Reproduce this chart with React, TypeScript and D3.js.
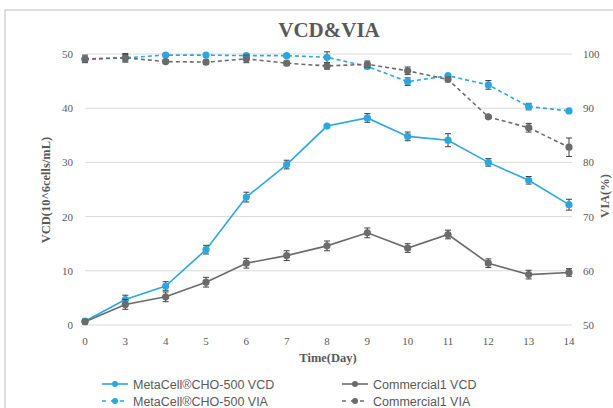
import React from "react";
import * as d3 from "d3";

const days = ["0", "3", "4", "5", "6", "7", "8", "9", "10", "11", "12", "13", "14"];
const vcdTicks = [0, 10, 20, 30, 40, 50];
const viaTicks = [50, 60, 70, 80, 90, 100];

const metaVcd = [0.7, 4.7, 7.2, 13.9, 23.6, 29.6, 36.7, 38.2, 34.8, 34.1, 30.0, 26.7, 22.2];
const metaVcdErr = [0.4, 0.8, 0.8, 0.8, 0.9, 0.8, 0.2, 0.8, 0.8, 1.2, 0.7, 0.7, 1.0];
const commVcd = [0.6, 3.8, 5.2, 7.9, 11.4, 12.8, 14.6, 17.0, 14.2, 16.7, 11.4, 9.3, 9.7];
const commVcdErr = [0.4, 0.9, 0.9, 0.9, 0.9, 0.9, 0.9, 0.9, 0.8, 0.8, 0.8, 0.8, 0.7];

const metaVia = [99.0, 99.3, 99.8, 99.8, 99.7, 99.7, 99.4, 97.7, 94.9, 96.0, 94.3, 90.3, 89.5];
const metaViaErr = [0.3, 0.8, 0.3, 0.3, 0.3, 0.3, 1.0, 0.4, 0.7, 0.2, 0.8, 0.6, 0.2];
const commVia = [99.1, 99.3, 98.6, 98.5, 99.1, 98.3, 97.8, 98.1, 96.9, 95.3, 88.4, 86.4, 82.8];
const commViaErr = [0.7, 0.6, 0.3, 0.4, 0.7, 0.4, 0.6, 0.6, 0.7, 0.4, 0.3, 0.8, 1.7];

const BLUE = "#2AA7DF";
const GRAY = "#6B6B6B";
const TEXT = "#595959";

const x = d3.scalePoint<string>().domain(days).range([85, 569]);
const yL = d3.scaleLinear().domain([0, 50]).range([325, 54]);
const yR = d3.scaleLinear().domain([50, 100]).range([325, 54]);

const Series = ({ values, errs, scale, color, dashed }) => {
  const line = d3
    .line<number>()
    .x((d, i) => x(days[i]))
    .y((d) => scale(d));
  return (
    <g>
      <path
        d={line(values)}
        fill="none"
        stroke={color}
        strokeWidth={1.6}
        strokeDasharray={dashed ? "4,3" : undefined}
      />
      {values.map((v, i) => {
        const cx = x(days[i]);
        const top = scale(v + errs[i]);
        const bot = scale(v - errs[i]);
        return (
          <g key={i}>
            <line x1={cx} x2={cx} y1={top} y2={bot} stroke="#404040" strokeWidth={1} />
            <line x1={cx - 3} x2={cx + 3} y1={top} y2={top} stroke="#404040" strokeWidth={1} />
            <line x1={cx - 3} x2={cx + 3} y1={bot} y2={bot} stroke="#404040" strokeWidth={1} />
            <circle cx={cx} cy={scale(v)} r={3.6} fill={color} />
          </g>
        );
      })}
    </g>
  );
};

const legendItems = [
  { label: "MetaCell®CHO-500 VCD", color: BLUE, dashed: false, x: 102, y: 384 },
  { label: "MetaCell®CHO-500 VIA", color: BLUE, dashed: true, x: 102, y: 401 },
  { label: "Commercial1 VCD", color: GRAY, dashed: false, x: 342, y: 384 },
  { label: "Commercial1 VIA", color: GRAY, dashed: true, x: 342, y: 401 },
];

export default function App() {
  return (
    <svg
      width={613}
      height={408}
      style={{ position: "absolute", left: 0, top: 0, background: "#fff" }}
    >
      <rect x={5} y={10} width={640} height={420} fill="#fff" stroke="#c8c8c8" strokeWidth={1.2} />
      <text
        x={329}
        y={37}
        textAnchor="middle"
        fontFamily="Liberation Serif"
        fontWeight="bold"
        fontSize={21}
        fill={TEXT}
      >
        VCD&amp;VIA
      </text>

      {vcdTicks.map((t) => (
        <line key={t} x1={85} x2={572} y1={yL(t)} y2={yL(t)} stroke="#dadada" strokeWidth={1} />
      ))}
      {vcdTicks.map((t) => (
        <text
          key={t}
          x={73}
          y={yL(t) + 4}
          textAnchor="end"
          fontFamily="Liberation Serif"
          fontSize={11}
          fill={TEXT}
        >
          {t}
        </text>
      ))}
      {viaTicks.map((t) => (
        <text key={t} x={583} y={yR(t) + 4} fontFamily="Liberation Serif" fontSize={11} fill={TEXT}>
          {t}
        </text>
      ))}
      {days.map((d) => (
        <text
          key={d}
          x={x(d)}
          y={345}
          textAnchor="middle"
          fontFamily="Liberation Serif"
          fontSize={11}
          fill={TEXT}
        >
          {d}
        </text>
      ))}

      <text
        transform="translate(50,190) rotate(-90)"
        textAnchor="middle"
        fontFamily="Liberation Serif"
        fontWeight="bold"
        fontSize={12.5}
        fill={TEXT}
      >
        VCD(10^6cells/mL)
      </text>
      <text
        transform="translate(609,196) rotate(-90)"
        textAnchor="middle"
        fontFamily="Liberation Serif"
        fontWeight="bold"
        fontSize={12.5}
        fill={TEXT}
      >
        VIA(%)
      </text>
      <text
        x={328}
        y={362}
        textAnchor="middle"
        fontFamily="Liberation Serif"
        fontWeight="bold"
        fontSize={12.5}
        fill={TEXT}
      >
        Time(Day)
      </text>

      <Series values={metaVcd} errs={metaVcdErr} scale={yL} color={BLUE} dashed={false} />
      <Series values={metaVia} errs={metaViaErr} scale={yR} color={BLUE} dashed={true} />
      <Series values={commVcd} errs={commVcdErr} scale={yL} color={GRAY} dashed={false} />
      <Series values={commVia} errs={commViaErr} scale={yR} color={GRAY} dashed={true} />

      {legendItems.map((it) => (
        <g key={it.label}>
          <line
            x1={it.x}
            x2={it.x + 26}
            y1={it.y}
            y2={it.y}
            stroke={it.color}
            strokeWidth={1.6}
            strokeDasharray={it.dashed ? "4,5" : undefined}
          />
          <circle cx={it.x + 13} cy={it.y} r={3} fill={it.color} />
          <text
            x={it.x + 31}
            y={it.y + 4.5}
            fontFamily="Liberation Sans"
            fontSize={12.5}
            fill={TEXT}
          >
            {it.label}
          </text>
        </g>
      ))}
    </svg>
  );
}
